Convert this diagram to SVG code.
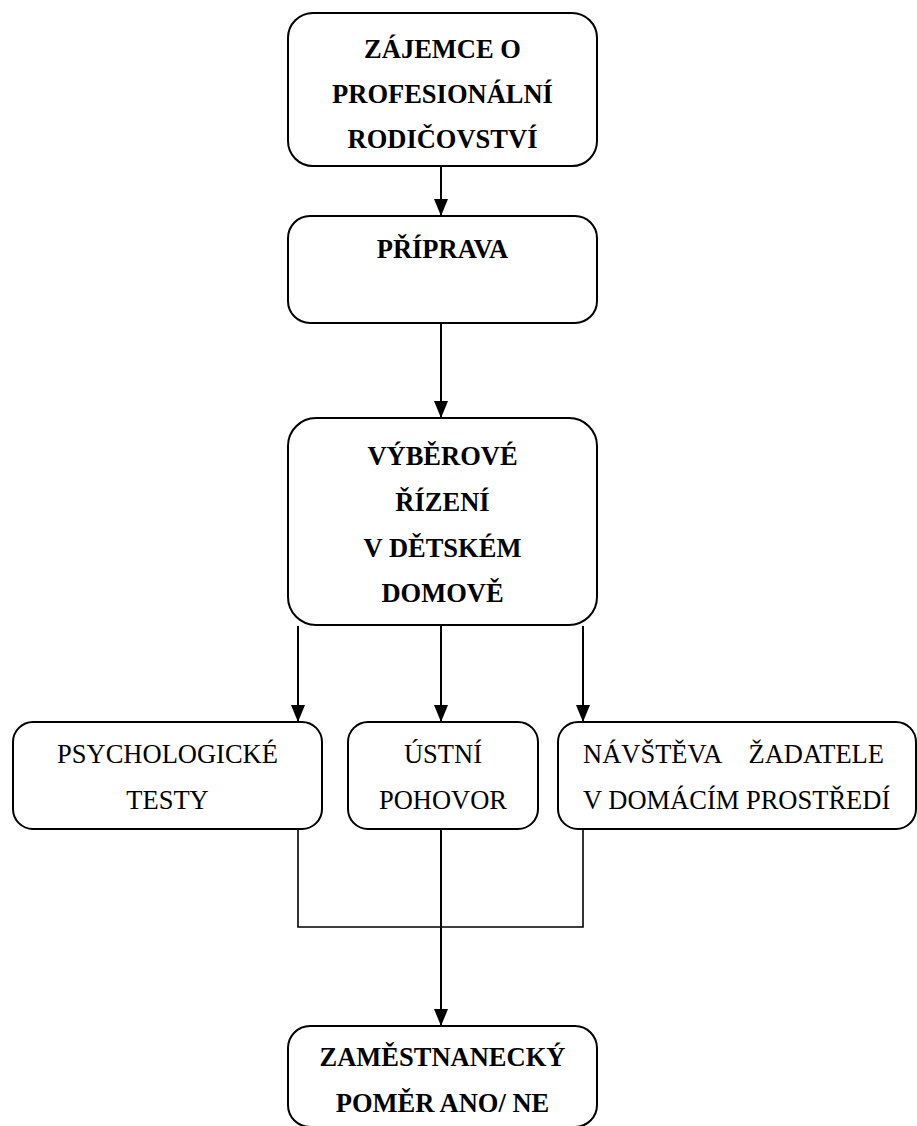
<svg xmlns="http://www.w3.org/2000/svg" width="917" height="1126" viewBox="0 0 917 1126">
<style>
.box{fill:#fff;stroke:#000;stroke-width:2}
.b{font-family:"Liberation Serif","Times New Roman",serif;font-size:26.5px;font-weight:bold;text-anchor:middle;fill:#000}
.r{font-family:"Liberation Serif","Times New Roman",serif;font-size:26.5px;text-anchor:middle;fill:#000}
.c{fill:none;stroke:#000;stroke-width:2}
.j{fill:none;stroke:#000;stroke-width:1.6}
</style>
<defs>
<marker id="ah" viewBox="0 0 17 14" refX="17" refY="7" markerWidth="17" markerHeight="14" markerUnits="userSpaceOnUse" orient="auto">
<path d="M0,0 L17,7 L0,14 z" fill="#000"/>
</marker>
</defs>
<rect width="917" height="1126" fill="#fff"/>
<g id="connectors">
<line class="c" x1="441" y1="166" x2="441" y2="216" marker-end="url(#ah)"/>
<line class="c" x1="441" y1="323" x2="441" y2="418" marker-end="url(#ah)"/>
<line class="c" x1="298" y1="626" x2="298" y2="722" marker-end="url(#ah)"/>
<line class="c" x1="441" y1="626" x2="441" y2="722" marker-end="url(#ah)"/>
<line class="c" x1="583" y1="626" x2="583" y2="722" marker-end="url(#ah)"/>
<polyline class="j" points="298,829 298,927 583,927 583,829"/>
<line class="c" x1="441" y1="829" x2="441" y2="1026" marker-end="url(#ah)"/>
</g>
<g id="n1">
<rect class="box" x="288" y="13" width="309" height="153" rx="25"/>
<text class="b" x="442.5" y="58">ZÁJEMCE O</text>
<text class="b" x="442.5" y="103">PROFESIONÁLNÍ</text>
<text class="b" x="442.5" y="148">RODIČOVSTVÍ</text>
</g>
<g id="n2">
<rect class="box" x="288" y="216" width="309" height="107" rx="22"/>
<text class="b" x="442.5" y="258">PŘÍPRAVA</text>
</g>
<g id="n3">
<rect class="box" x="288" y="418" width="309" height="207" rx="28"/>
<text class="b" x="442.5" y="465">VÝBĚROVÉ</text>
<text class="b" x="442.5" y="511">ŘÍZENÍ</text>
<text class="b" x="442.5" y="557">V DĚTSKÉM</text>
<text class="b" x="442.5" y="602">DOMOVĚ</text>
</g>
<g id="n4">
<rect class="box" x="13" y="722" width="309" height="107" rx="20"/>
<text class="r" x="167.5" y="763">PSYCHOLOGICKÉ</text>
<text class="r" x="167.5" y="809">TESTY</text>
</g>
<g id="n5">
<rect class="box" x="348" y="722" width="190" height="107" rx="20"/>
<text class="r" x="443" y="763">ÚSTNÍ</text>
<text class="r" x="443" y="809">POHOVOR</text>
</g>
<g id="n6">
<rect class="box" x="558" y="722" width="358" height="107" rx="20"/>
<text class="r" x="583" y="763" style="text-anchor:start;word-spacing:21px">NÁVŠTĚVA ŽADATELE</text>
<text class="r" x="583" y="809" style="text-anchor:start">V DOMÁCÍM PROSTŘEDÍ</text>
</g>
<g id="n7">
<rect class="box" x="288" y="1026" width="309" height="101" rx="22"/>
<text class="b" x="442.5" y="1066">ZAMĚSTNANECKÝ</text>
<text class="b" x="442.5" y="1112">POMĚR ANO/ NE</text>
</g>
</svg>
